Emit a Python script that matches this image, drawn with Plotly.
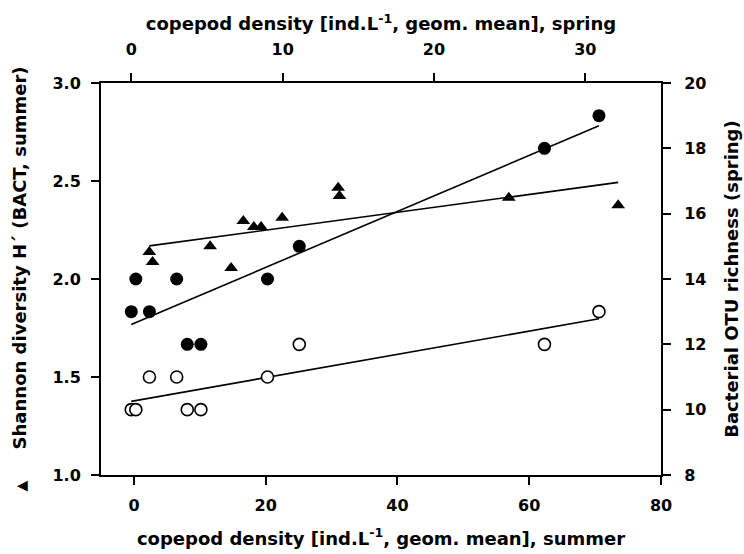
import numpy as np
import plotly.graph_objects as go

# Summer copepod density vs Shannon diversity (triangles, bottom/left axes)
summer_density = [2.33, 2.83, 11.56, 14.75, 16.6, 18.2, 19.3, 22.5, 31.0, 31.2, 56.9, 73.5]
shannon_h = [2.138, 2.087, 2.167, 2.056, 2.296, 2.265, 2.265, 2.313, 2.466, 2.424, 2.415, 2.376]

# Spring copepod density vs Bacterial OTU richness (circles, top/right axes)
spring_density = [0.0, 0.3, 1.2, 3.0, 3.7, 4.6, 9.0, 11.1, 27.3, 30.9]
richness_filled = [13, 14, 13, 14, 12, 12, 14, 15, 18, 19]
richness_open = [10, 10, 11, 11, 10, 10, 11, 12, 12, 13]

bottom_ticks = [0, 20, 40, 60, 80]
top_ticks = [0, 10, 20, 30]
left_ticks = [1.0, 1.5, 2.0, 2.5, 3.0]
right_ticks = [8, 10, 12, 14, 16, 18, 20]

FONT = "DejaVu Sans, Liberation Sans, Arial, sans-serif"


def fit_line(xs, ys):
    k, b = np.polyfit(xs, ys, 1)
    x0, x1 = min(xs), max(xs)
    return [x0, x1], [k * x0 + b, k * x1 + b]


fig = go.Figure()

lx, ly = fit_line(summer_density, shannon_h)
fig.add_trace(go.Scatter(x=lx, y=ly, mode="lines", line=dict(color="black", width=1.6),
                         xaxis="x", yaxis="y", showlegend=False, hoverinfo="skip"))
lx, ly = fit_line(spring_density, richness_filled)
fig.add_trace(go.Scatter(x=lx, y=ly, mode="lines", line=dict(color="black", width=1.6),
                         xaxis="x2", yaxis="y2", showlegend=False, hoverinfo="skip"))
lx, ly = fit_line(spring_density, richness_open)
fig.add_trace(go.Scatter(x=lx, y=ly, mode="lines", line=dict(color="black", width=1.6),
                         xaxis="x2", yaxis="y2", showlegend=False, hoverinfo="skip"))

fig.add_trace(go.Scatter(x=summer_density, y=shannon_h, mode="markers",
                         marker=dict(symbol="triangle-up", size=12, color="black", line=dict(width=0)),
                         xaxis="x", yaxis="y", showlegend=False))
fig.add_trace(go.Scatter(x=spring_density, y=richness_filled, mode="markers",
                         marker=dict(symbol="circle", size=13, color="black", line=dict(width=0)),
                         xaxis="x2", yaxis="y2", showlegend=False))
fig.add_trace(go.Scatter(x=spring_density, y=richness_open, mode="markers",
                         marker=dict(symbol="circle", size=12, color="white", line=dict(width=1.6, color="black")),
                         xaxis="x2", yaxis="y2", showlegend=False))

axis_common = dict(showgrid=False, zeroline=False, showline=True, linecolor="black", linewidth=2,
                   ticks="outside", ticklen=8, tickwidth=2, tickcolor="black", automargin=False,
                   tickfont=dict(family=FONT, size=16, color="black", weight="bold"))
title_font = dict(family=FONT, size=18, color="black", weight="bold")

nb = "\u00a0"
fig.update_layout(
    width=744, height=554,
    margin=dict(l=101, r=83, t=83, b=79),
    paper_bgcolor="white", plot_bgcolor="white",
    xaxis=dict(range=[-5, 80], tickvals=bottom_ticks, side="bottom", anchor="y", ticklabelstandoff=7,
               title=dict(text="<b>copepod density [ind.L<sup>-1</sup>, geom. mean], summer</b>", font=title_font, standoff=18),
               **axis_common),
    xaxis2=dict(range=[-2, 35], tickvals=top_ticks, side="top", anchor="y", overlaying="x", ticklabelstandoff=12,
                title=dict(text="<b>copepod density [ind.L<sup>-1</sup>, geom. mean], spring</b>", font=title_font, standoff=4),
                **axis_common),
    yaxis=dict(range=[1, 3], tickvals=left_ticks, tickformat=".1f", side="left", anchor="x", ticklabelstandoff=7,
               title=dict(text="<span style='font-size:14px'>▲</span>" + nb * 5 + "<b>Shannon diversity H´ (BACT, summer)</b>",
                          font=title_font, standoff=21),
               **axis_common),
    yaxis2=dict(range=[8, 20], tickvals=right_ticks, side="right", anchor="x", overlaying="y", ticklabelstandoff=10,
                title=dict(text="<b>Bacterial OTU richness (spring)</b>", font=title_font, standoff=20),
                **axis_common),
)

fig.write_html("out.html", config={"displayModeBar": False},
               post_script="document.body.style.margin='0';document.body.style.padding='0';")
